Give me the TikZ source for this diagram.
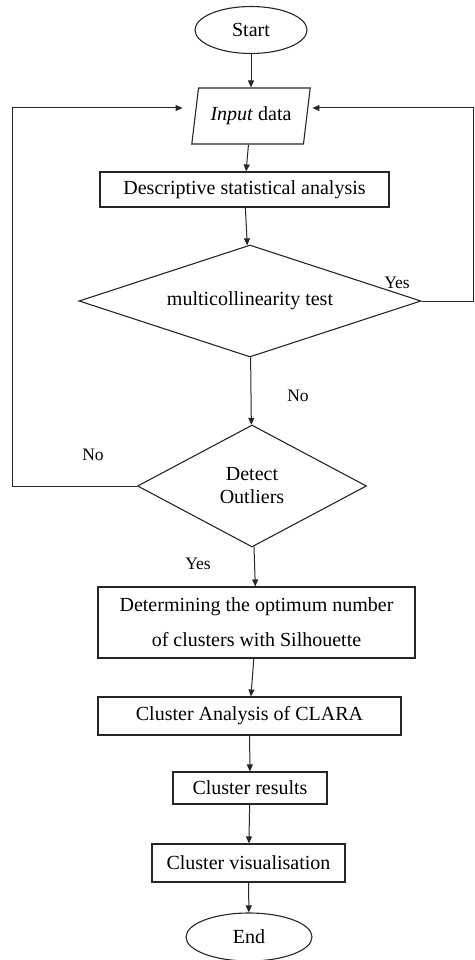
\documentclass[tikz,border=0pt]{standalone}
\usepackage{fontspec}
\setmainfont{Liberation Serif}
\usetikzlibrary{arrows.meta,positioning,calc,shapes.geometric}

\begin{document}
\begin{tikzpicture}[x=1pt,y=1pt,
      base/.style={draw=black!85,line width=1.1pt,inner sep=0pt,font=\fontsize{20}{23}\selectfont},
      term/.style={base,ellipse},
      io/.style={base,trapezium,trapezium left angle=74,trapezium right angle=106,trapezium stretches=true},
      proc/.style={base,rectangle},
      cond/.style={base,diamond},
      lbl/.style={font=\fontsize{17.5}{20}\selectfont},
      flow/.style={draw=black!85,line width=1pt,-{Triangle[length=7pt,width=6pt]}}]
    \useasboundingbox (0,0) rectangle (474,-960);
    \node[term,minimum width=112,minimum height=47] (start) at (251,-30) {Start};
    \node[io,minimum width=119,minimum height=56] (input) at (251,-116) {\textit{Input} data};
    \node[proc,minimum width=289,minimum height=35] (desc) at (244.5,-189.5) {Descriptive statistical analysis};
    \node[cond,aspect=3.05,minimum width=342,minimum height=112] (mc) at (250,-301) {multicollinearity test};
    \node[cond,minimum width=229,minimum height=122,align=center] (det) at (252,-486) {Detect\\Outliers};
    \node[proc,minimum width=317,minimum height=71,align=center,
          font=\fontsize{20}{35}\selectfont] (opt) at (256.5,-622.5)
          {Determining the optimum number\\of clusters with Silhouette};
    \node[proc,minimum width=303,minimum height=38] (clara) at (249.5,-716) {Cluster Analysis of CLARA};
    \node[proc,minimum width=154,minimum height=32] (res) at (250,-788) {Cluster results};
    \node[proc,minimum width=193,minimum height=38] (vis) at (248.5,-863) {Cluster visualisation};
    \node[term,minimum width=126,minimum height=48] (end) at (249,-937) {End};

    \draw[flow] (start) -- (input);
    \draw[flow] (input) -- (desc);
    \draw[flow] (desc) -- (mc);
    \draw[flow] (mc) -- (det);
    \draw[flow] (det) -- (opt);
    \draw[flow] (opt) -- (clara);
    \draw[flow] (clara) -- (res);
    \draw[flow] (res) -- (vis);
    \draw[flow] (vis) -- (end);
    \draw[flow] (det.west) -- ++(-124,0) |- ([xshift=-12pt,yshift=8pt]input.west);
    \draw[flow] (mc.east) -- ++(52,0) |- ([xshift=5pt,yshift=8pt]input.east);

    \node[lbl] (yes1) at (397,-283) {Yes};
    \node[lbl] (no1) at (298,-396) {No};
    \node[lbl] (no2) at (93,-455) {No};
    \node[lbl] (yes2) at (198,-564) {Yes};
  \end{tikzpicture}
\end{document}
